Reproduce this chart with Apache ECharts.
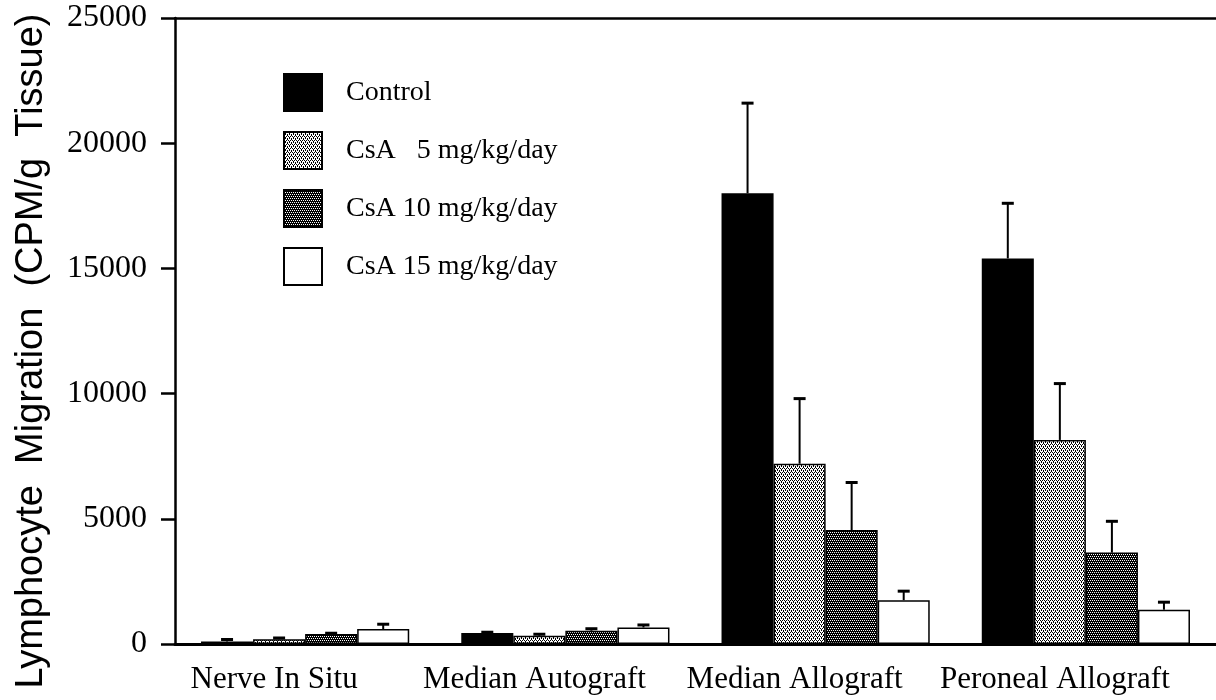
<!DOCTYPE html>
<html>
<head>
<meta charset="utf-8">
<style>
  html, body { margin: 0; padding: 0; background: #fff; }
  #view1 { width: 1216px; height: 700px; }
</style>
</head>
<body>
<div id="view1"></div>
<script src="https://cdn.jsdelivr.net/npm/echarts@6/dist/echarts.min.js"></script>
<script>
"use strict";
// values (CPM/g tissue), error = upper SE whisker
var groups = ['Nerve In Situ', 'Median Autograft', 'Median Allograft', 'Peroneal Allograft'];
var seriesNames = ['Control', 'CsA   5 mg/kg/day', 'CsA 10 mg/kg/day', 'CsA 15 mg/kg/day'];
var control    = [100, 440, 18000, 15400];
var controlErr = [80, 30, 3600, 2200];
var csa5       = [190, 330, 7200, 8150];
var csa5Err    = [50, 60, 2600, 2250];
var csa10      = [400, 530, 4550, 3650];
var csa10Err   = [30, 80, 1900, 1250];
var csa15      = [600, 660, 1750, 1370];
var csa15Err   = [190, 100, 360, 300];
var yTicks     = [0, 25000, 5000];   // min, max, step

function stipple(dark){
	// small repeating dot pattern like the printed screen tones
	var c = document.createElement('canvas'); c.width = 4; c.height = 4;
	var ctx = c.getContext('2d');
	ctx.fillStyle = dark ? '#000' : '#fff'; ctx.fillRect(0, 0, 4, 4);
	ctx.fillStyle = dark ? '#fff' : '#000';
	[[0,0],[2,0],[1,2],[3,2]].forEach(function(p){ ctx.fillRect(p[0], p[1], 1, 1); });
	if(!dark){ ctx.fillRect(1, 1, 1, 1); ctx.fillRect(3, 3, 1, 1); }
	return { image: c, repeat: 'repeat' };
}

var fills = ['#000', stipple(false), stipple(true), '#fff'];
var means = [control, csa5, csa10, csa15], errs = [controlErr, csa5Err, csa10Err, csa15Err];

var bars = seriesNames.map(function(n, i){
	return { name: n, type: 'bar', data: means[i], barGap: '0%', barCategoryGap: '20%',
		itemStyle: { color: fills[i], borderColor: '#000', borderWidth: 1.5 } };
});

var errData = [];
means.forEach(function(m, s){ m.forEach(function(v, c){ errData.push([c, s, v, errs[s][c]]); }); });

bars.push({
	name: 'err', type: 'custom', z: 5, data: errData, encode: { x: 0, y: 2 },
	renderItem: function(params, api){
		var c = api.value(0), s = api.value(1), v = api.value(2), e = api.value(3);
		var lo = api.coord([c, v]), hi = api.coord([c, v + e]);
		var w = api.size([1, 0])[0] * 0.8 / 4;
		var x = lo[0] + (s - 1.5) * w;
		return { type: 'group', children: [
			{ type: 'line', shape: { x1: x, y1: lo[1], x2: x, y2: hi[1] }, style: { stroke: '#000', lineWidth: 2 } },
			{ type: 'line', shape: { x1: x - 6, y1: hi[1], x2: x + 6, y2: hi[1] }, style: { stroke: '#000', lineWidth: 3 } }
		]};
	}
});

var serif = '"Liberation Serif", "Times New Roman", serif';
var option = {
	animation: false,
	grid: { left: 175, right: 0, top: 18, bottom: 56, containLabel: false, outerBoundsMode: 'none' },
	legend: {
		data: seriesNames, orient: 'vertical', left: 283, top: 73, padding: 0,
		itemWidth: 38, itemHeight: 37, itemGap: 19, icon: 'rect',
		textStyle: { fontFamily: serif, fontSize: 28, color: '#000', padding: [0, 0, 0, 19] }
	},
	xAxis: [
		{ type: 'category', data: groups,
		  axisLine: { lineStyle: { color: '#000', width: 3 } }, axisTick: { show: false },
		  axisLabel: { fontFamily: serif, fontSize: 31, color: '#000', margin: 20, interval: 0, padding: [0, 62, 0, 0] } },
		{ type: 'category', data: groups, position: 'top',
		  axisLine: { lineStyle: { color: '#000', width: 2.5 } }, axisTick: { show: false }, axisLabel: { show: false } }
	],
	yAxis: {
		type: 'value', min: yTicks[0], max: yTicks[1], interval: yTicks[2],
		name: 'Lymphocyte  Migration  (CPM/g  Tissue)', nameLocation: 'middle', nameGap: 124,
		nameTextStyle: { fontFamily: '"Liberation Sans", Arial, sans-serif', fontSize: 38, color: '#000', padding: [0, 40, 0, 0] },
		axisLine: { show: true, lineStyle: { color: '#000', width: 2.5 } },
		axisTick: { show: true, length: 14, lineStyle: { color: '#000', width: 2.5 } },
		axisLabel: { fontFamily: serif, fontSize: 32, color: '#000', margin: 28, formatter: function(v){ return String(v); } },
		splitLine: { show: false }
	},
	series: bars
};

var myChart = echarts.init(document.getElementById('view1'));
myChart.setOption(option);
</script>
</body>
</html>
